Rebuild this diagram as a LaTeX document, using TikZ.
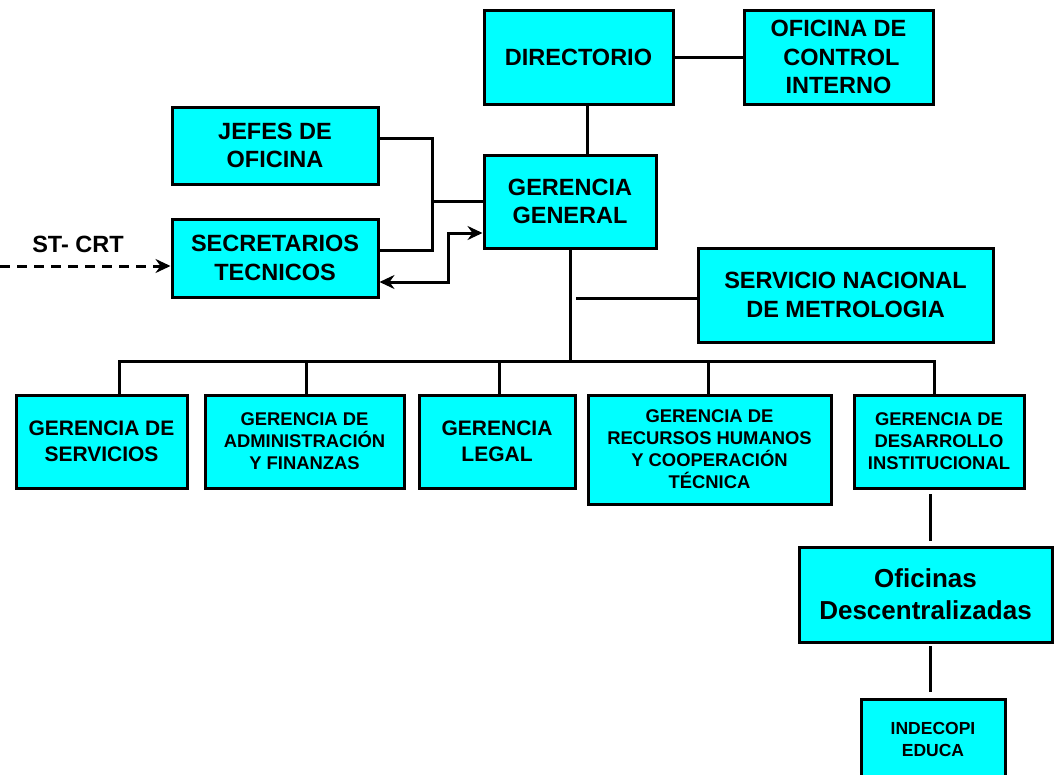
\documentclass[tikz,border=0pt]{standalone}
\usepackage{fontspec}
\setmainfont{Liberation Sans}
\usetikzlibrary{arrows.meta}
\definecolor{boxcyan}{RGB}{0,255,255}
\tikzset{
  box/.style={draw=black, line width=3pt, fill=boxcyan, align=center, inner sep=0pt, font=\bfseries},
  big/.style={font=\bfseries\fontsize{23.5}{28.5}\selectfont},
  mid/.style={font=\bfseries\fontsize{21}{26}\selectfont},
  sml/.style={font=\bfseries\fontsize{18.4}{22}\selectfont},
  conn/.style={line width=3pt},
  tip/.tip={Stealth[length=15pt,width=14pt,inset=5pt]},
  arr/.style={line width=3pt, -tip},
}
\begin{document}
\begin{tikzpicture}[x=1pt,y=-1pt]
\useasboundingbox (0,0) rectangle (1054,774);
\clip (0,0) rectangle (1054,774);
% top
\node[box,big,minimum width=189pt,minimum height=94pt] (dir) at (578.5,57) {DIRECTORIO};
\node[box,big,minimum width=189pt,minimum height=94pt] (oci) at (838.5,57) {OFICINA DE\\\hskip6pt CONTROL\\INTERNO};
\node[box,big,minimum width=172pt,minimum height=93pt] (gg) at (570,201.5) {GERENCIA\\GENERAL};
\node[box,big,minimum width=206pt,minimum height=77pt] (jef) at (275,145.5) {JEFES DE\\OFICINA};
\node[box,big,minimum width=206pt,minimum height=78pt] (sec) at (275,258) {SECRETARIOS\\TECNICOS};
\node[box,big,minimum width=295pt,minimum height=94pt] (snm) at (845.5,295) {SERVICIO NACIONAL\\DE METROLOGIA};
\node[big] (st) at (78,244) {ST- CRT};
% gerencias
\node[box,mid,minimum width=171pt,minimum height=93pt] (gs) at (101.5,441.5) {GERENCIA DE\\SERVICIOS};
\node[box,sml,minimum width=199pt,minimum height=93pt] (ga) at (304.5,441.5) {GERENCIA DE\\ADMINISTRACIÓN\\Y FINANZAS};
\node[box,mid,minimum width=156pt,minimum height=93pt] (gl) at (497,441.5) {GERENCIA\\LEGAL};
\node[box,sml,minimum width=243pt,minimum height=109pt] (grh) at (709.5,449.5) {GERENCIA DE\\RECURSOS HUMANOS\\Y COOPERACIÓN\\TÉCNICA};
\node[box,sml,minimum width=170pt,minimum height=93pt] (gd) at (939,441.5) {GERENCIA DE\\DESARROLLO\\INSTITUCIONAL};
\node[box,font=\bfseries\fontsize{26}{32}\selectfont,minimum width=253pt,minimum height=95pt] (ofd) at (925.5,594.5) {Oficinas\\Descentralizadas};
\node[box,font=\bfseries\fontsize{17.5}{22}\selectfont,minimum width=144pt,minimum height=80pt] (ind) at (933,739) {INDECOPI\\EDUCA};
% coordinates
\coordinate (dx) at (587,0);
\coordinate (j1) at (432,138);
\coordinate (j2) at (432,250);
\coordinate (j3) at (432,201.5);
\coordinate (a1) at (448,282);
\coordinate (a2) at (448,233);
\coordinate (dashstart) at (0,266);
\coordinate (bus) at (570,361);
\coordinate (b1) at (119,361);
\coordinate (b2) at (306,361);
\coordinate (b3) at (499,361);
\coordinate (b4) at (708,361);
\coordinate (b5) at (934,361);
\coordinate (sb) at (576,298);
\coordinate (v1) at (930,494);
\coordinate (v2) at (930,541);
\coordinate (v3) at (930,646);
\coordinate (v4) at (930,692);
% connectors
\draw[conn] (dir.east) -- (oci.west);
\draw[conn] (dir.south -| dx) -- (gg.north -| dx);
\draw[conn, line join=miter] ([yshift=7.5pt]jef.east) -- (j1) -- (j2) -- ([yshift=8pt]sec.east);
\draw[conn] (j3) -- (gg.west);
\draw[conn, line join=miter, tip-tip] ([yshift=-24pt]sec.east) -- (a1) -- (a2) -- (gg.west |- a2);
\draw[arr, dash pattern=on 10pt off 7pt] (dashstart) -- (sec.west |- dashstart);
\draw[conn] (gg.south) -- (bus);
\draw[conn, line join=miter] (gs.north -| b1) -- (b1) -- (b5) -- (gd.north -| b5);
\draw[conn] (b2) -- (ga.north -| b2);
\draw[conn] (b3) -- (gl.north -| b3);
\draw[conn] (b4) -- (grh.north -| b4);
\draw[conn] (sb) -- (snm.west |- sb);
\draw[conn] (v1) -- (v2);
\draw[conn] (v3) -- (v4);
\end{tikzpicture}
\end{document}
